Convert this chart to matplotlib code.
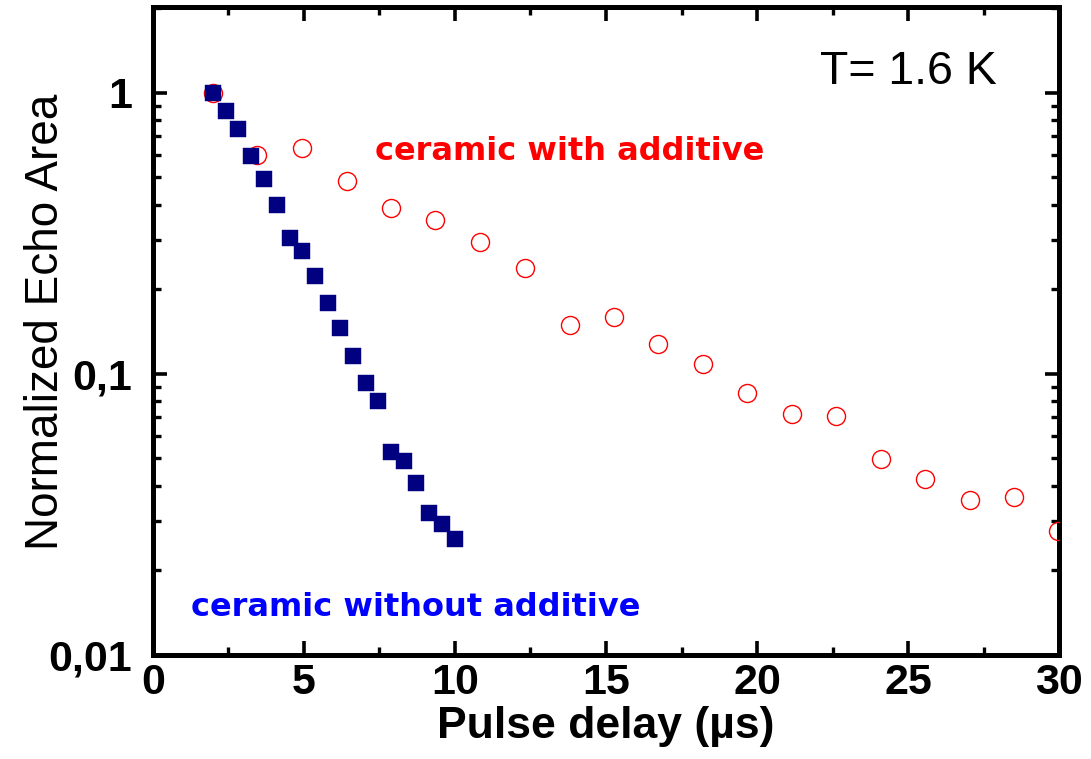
import matplotlib
matplotlib.use("Agg")
import matplotlib.pyplot as plt
from matplotlib import font_manager as fm
from matplotlib.ticker import FixedLocator, FixedFormatter, MultipleLocator, LogLocator, NullFormatter

# ---- data ----
x_without = [2.0, 2.42, 2.83, 3.25, 3.68, 4.1, 4.53, 4.95, 5.36, 5.79, 6.19, 6.62, 7.05, 7.45, 7.88, 8.31, 8.71, 9.14, 9.57, 9.99]
y_without = [1.0, 0.863, 0.744, 0.597, 0.494, 0.399, 0.305, 0.273, 0.223, 0.179, 0.146, 0.116, 0.0925, 0.0800, 0.0527, 0.0490, 0.0409, 0.0321, 0.0292, 0.0259]

x_with = [2.0, 3.44, 4.93, 6.42, 7.88, 9.34, 10.83, 12.32, 13.8, 15.26, 16.72, 18.2, 19.67, 21.16, 22.6, 24.1, 25.56, 27.05, 28.5, 29.97]
y_with = [1.0, 0.602, 0.637, 0.486, 0.390, 0.353, 0.295, 0.238, 0.149, 0.159, 0.128, 0.108, 0.0857, 0.0720, 0.0709, 0.0499, 0.0423, 0.0356, 0.0364, 0.0277]

y_ticks = [0.01, 0.1, 1]
y_tick_labels = ["0,01", "0,1", "1"]
x_ticks = [0, 5, 10, 15, 20, 25, 30]

names = {f.name for f in fm.fontManager.ttflist}
narrow = "Liberation Sans Narrow" if "Liberation Sans Narrow" in names else "Liberation Sans"

fig = plt.figure(figsize=(10.91, 7.59), dpi=100)
ax = fig.add_axes([0.1402, 0.137, 0.8305, 0.854])

ax.plot(x_with, y_with, linestyle="none", marker="o", markersize=13,
        markerfacecolor="none", markeredgecolor="#ff0000", markeredgewidth=1.0, zorder=3)
ax.plot(x_without, y_without, linestyle="none", marker="s", markersize=12.2,
        markerfacecolor="#000080", markeredgecolor="#000080", markeredgewidth=0.3, zorder=4)

ax.set_yscale("log")
ax.set_xlim(0, 30)
ax.set_ylim(0.01, 2.02)

ax.xaxis.set_major_locator(FixedLocator(x_ticks))
ax.xaxis.set_minor_locator(MultipleLocator(2.5))
ax.yaxis.set_major_locator(FixedLocator(y_ticks))
ax.yaxis.set_major_formatter(FixedFormatter(y_tick_labels))
ax.yaxis.set_minor_locator(LogLocator(base=10, subs=range(2, 10)))
ax.yaxis.set_minor_formatter(NullFormatter())

for s in ax.spines.values():
    s.set_linewidth(3.6)

ax.tick_params(which="both", direction="in", top=True, right=True)
ax.tick_params(which="major", length=10, width=2.6)
ax.tick_params(which="minor", length=6, width=2.4)
ax.tick_params(axis="x", which="major", pad=6)
ax.tick_params(axis="y", which="major", pad=15)

for lbl in ax.get_xticklabels() + ax.get_yticklabels():
    lbl.set_fontfamily(narrow)
    lbl.set_fontweight("bold")
    lbl.set_fontsize(31)

ax.set_xlabel("Pulse delay (µs)", fontfamily=narrow, fontweight="bold", fontsize=32, labelpad=2)
ax.set_ylabel("Normalized Echo Area", fontfamily="Liberation Sans", fontsize=33)
ax.yaxis.set_label_coords(-0.094, 0.514)

ax.text(25.0, 1.18, "T= 1.6 K", fontfamily="Liberation Sans", fontsize=33.5,
        ha="center", va="center", color="black")
ax.text(13.8, 0.617, "ceramic with additive", fontfamily="DejaVu Sans", fontweight="bold",
        fontsize=23, ha="center", va="center", color="#ff0000")
ax.text(8.71, 0.0148, "ceramic without additive", fontfamily="DejaVu Sans", fontweight="bold",
        fontsize=23, ha="center", va="center", color="#0000ff")

fig.savefig("out.png", dpi=100)
